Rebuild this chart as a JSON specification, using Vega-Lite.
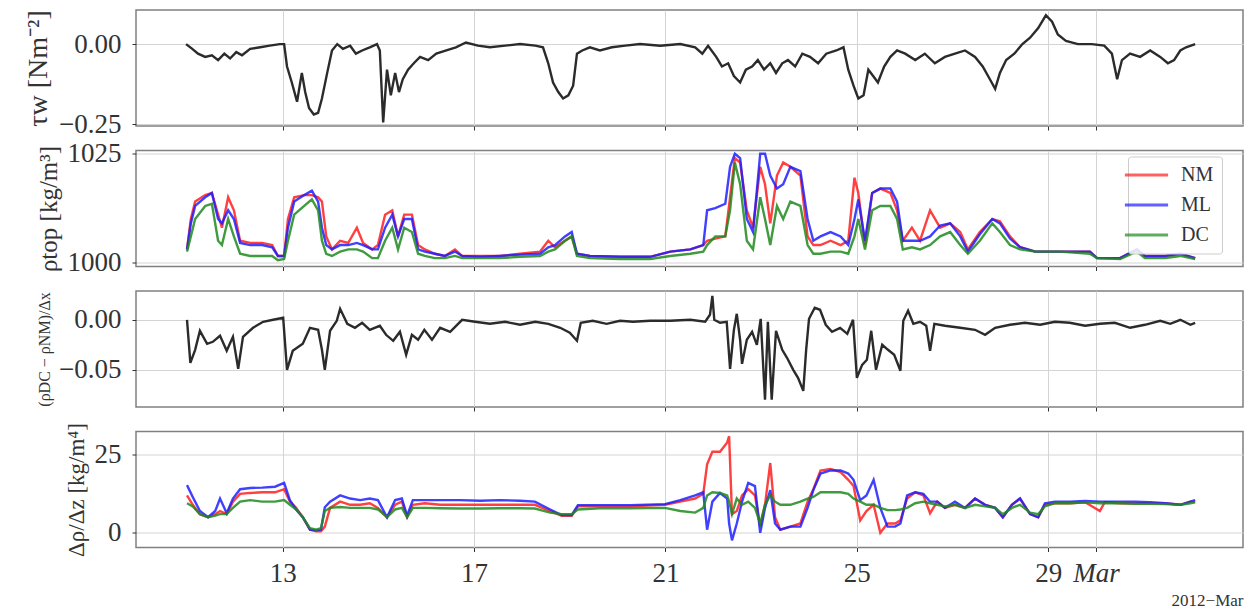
{
  "$schema": "https://vega.github.io/schema/vega-lite/v6.json",
  "padding": {"left": 23, "top": 8, "right": 4, "bottom": 4},
  "background": "white",
  "datasets": {
    "p1": [
      {"t":10.98,"v":0.0},{"t":11.11,"v":-0.015},{"t":11.23,"v":-0.03},{"t":11.38,"v":-0.04},{"t":11.52,"v":-0.035},{"t":11.65,"v":-0.05},{"t":11.78,"v":-0.03},{"t":11.9,"v":-0.045},{"t":12.03,"v":-0.025},{"t":12.15,"v":-0.035},{"t":12.32,"v":-0.015},{"t":12.53,"v":-0.01},{"t":12.73,"v":-0.005},{"t":12.94,"v":0.0},{"t":13.03,"v":0.0},{"t":13.09,"v":-0.07},{"t":13.19,"v":-0.12},{"t":13.3,"v":-0.18},{"t":13.4,"v":-0.09},{"t":13.47,"v":-0.15},{"t":13.55,"v":-0.2},{"t":13.65,"v":-0.22},{"t":13.74,"v":-0.215},{"t":13.82,"v":-0.17},{"t":13.93,"v":-0.09},{"t":14.03,"v":-0.02},{"t":14.14,"v":0.0},{"t":14.26,"v":-0.015},{"t":14.41,"v":-0.005},{"t":14.53,"v":-0.03},{"t":14.66,"v":-0.02},{"t":14.82,"v":-0.01},{"t":14.97,"v":0.0},{"t":15.03,"v":-0.02},{"t":15.1,"v":-0.245},{"t":15.18,"v":-0.08},{"t":15.26,"v":-0.16},{"t":15.35,"v":-0.09},{"t":15.43,"v":-0.15},{"t":15.51,"v":-0.11},{"t":15.62,"v":-0.08},{"t":15.74,"v":-0.06},{"t":15.87,"v":-0.04},{"t":16.04,"v":-0.05},{"t":16.21,"v":-0.03},{"t":16.42,"v":-0.02},{"t":16.62,"v":-0.01},{"t":16.83,"v":0.005},{"t":17.08,"v":-0.005},{"t":17.33,"v":-0.01},{"t":17.65,"v":-0.005},{"t":17.96,"v":0.0},{"t":18.28,"v":-0.005},{"t":18.44,"v":-0.01},{"t":18.55,"v":-0.06},{"t":18.65,"v":-0.12},{"t":18.76,"v":-0.15},{"t":18.86,"v":-0.17},{"t":18.97,"v":-0.16},{"t":19.07,"v":-0.13},{"t":19.15,"v":-0.03},{"t":19.26,"v":-0.02},{"t":19.42,"v":-0.01},{"t":19.63,"v":-0.02},{"t":19.88,"v":-0.01},{"t":20.16,"v":-0.005},{"t":20.47,"v":0.0},{"t":20.89,"v":-0.005},{"t":21.31,"v":0.0},{"t":21.62,"v":-0.01},{"t":21.77,"v":-0.03},{"t":21.89,"v":-0.005},{"t":22.06,"v":-0.04},{"t":22.18,"v":-0.07},{"t":22.31,"v":-0.06},{"t":22.43,"v":-0.1},{"t":22.56,"v":-0.12},{"t":22.68,"v":-0.08},{"t":22.81,"v":-0.07},{"t":22.93,"v":-0.05},{"t":23.06,"v":-0.08},{"t":23.19,"v":-0.06},{"t":23.31,"v":-0.09},{"t":23.44,"v":-0.06},{"t":23.56,"v":-0.05},{"t":23.71,"v":-0.07},{"t":23.86,"v":-0.03},{"t":24.02,"v":-0.04},{"t":24.19,"v":-0.06},{"t":24.36,"v":-0.03},{"t":24.57,"v":-0.02},{"t":24.72,"v":-0.01},{"t":24.82,"v":-0.08},{"t":24.93,"v":-0.13},{"t":25.03,"v":-0.17},{"t":25.14,"v":-0.16},{"t":25.24,"v":-0.08},{"t":25.34,"v":-0.1},{"t":25.44,"v":-0.12},{"t":25.57,"v":-0.07},{"t":25.7,"v":-0.04},{"t":25.84,"v":-0.02},{"t":26.01,"v":-0.03},{"t":26.22,"v":-0.05},{"t":26.42,"v":-0.03},{"t":26.63,"v":-0.06},{"t":26.84,"v":-0.04},{"t":27.05,"v":-0.03},{"t":27.26,"v":-0.02},{"t":27.47,"v":-0.04},{"t":27.63,"v":-0.07},{"t":27.78,"v":-0.11},{"t":27.89,"v":-0.14},{"t":27.99,"v":-0.09},{"t":28.12,"v":-0.05},{"t":28.29,"v":-0.03},{"t":28.46,"v":0.0},{"t":28.62,"v":0.02},{"t":28.79,"v":0.05},{"t":28.95,"v":0.09},{"t":29.08,"v":0.07},{"t":29.2,"v":0.03},{"t":29.37,"v":0.01},{"t":29.62,"v":0.0},{"t":29.91,"v":0.0},{"t":30.17,"v":-0.005},{"t":30.33,"v":-0.03},{"t":30.44,"v":-0.11},{"t":30.54,"v":-0.05},{"t":30.71,"v":-0.03},{"t":30.92,"v":-0.04},{"t":31.13,"v":-0.02},{"t":31.34,"v":-0.04},{"t":31.5,"v":-0.06},{"t":31.63,"v":-0.05},{"t":31.76,"v":-0.02},{"t":31.88,"v":-0.01},{"t":32.07,"v":0.0}
    ],
    "p2": [
      {"t":11.0,"NM":1003,"ML":1003,"DC":1002.5},{"t":11.08,"NM":1010,"ML":1009,"DC":1006},{"t":11.17,"NM":1014,"ML":1013,"DC":1010},{"t":11.38,"NM":1015.5,"ML":1015,"DC":1013},{"t":11.52,"NM":1016,"ML":1016,"DC":1013.5},{"t":11.65,"NM":1011,"ML":1010,"DC":1005},{"t":11.73,"NM":1008,"ML":1009,"DC":1004},{"t":11.86,"NM":1015,"ML":1012,"DC":1010},{"t":11.98,"NM":1012,"ML":1010,"DC":1006},{"t":12.11,"NM":1005,"ML":1004.5,"DC":1002},{"t":12.32,"NM":1004.5,"ML":1004,"DC":1001.5},{"t":12.57,"NM":1004.5,"ML":1004,"DC":1001.5},{"t":12.78,"NM":1004,"ML":1003.5,"DC":1001.5},{"t":12.9,"NM":1001.5,"ML":1001.5,"DC":1000.5},{"t":13.03,"NM":1001.5,"ML":1001.5,"DC":1000.8},{"t":13.11,"NM":1010,"ML":1008,"DC":1005},{"t":13.24,"NM":1015,"ML":1014,"DC":1011},{"t":13.45,"NM":1015.5,"ML":1015.5,"DC":1013},{"t":13.61,"NM":1015.5,"ML":1016.5,"DC":1014.5},{"t":13.74,"NM":1015,"ML":1014,"DC":1012},{"t":13.82,"NM":1014,"ML":1008,"DC":1005},{"t":13.91,"NM":1006,"ML":1004,"DC":1002},{"t":14.03,"NM":1003,"ML":1003,"DC":1001.5},{"t":14.2,"NM":1005,"ML":1004,"DC":1002.5},{"t":14.37,"NM":1004.5,"ML":1004,"DC":1003},{"t":14.55,"NM":1008,"ML":1004.5,"DC":1003},{"t":14.68,"NM":1004.5,"ML":1004,"DC":1002.5},{"t":14.87,"NM":1003,"ML":1003,"DC":1001},{"t":14.99,"NM":1004,"ML":1003,"DC":1001},{"t":15.14,"NM":1011,"ML":1008,"DC":1005},{"t":15.29,"NM":1012,"ML":1011,"DC":1008},{"t":15.41,"NM":1006,"ML":1006,"DC":1003},{"t":15.54,"NM":1011,"ML":1010,"DC":1008},{"t":15.7,"NM":1011,"ML":1010,"DC":1007},{"t":15.83,"NM":1004,"ML":1003,"DC":1002},{"t":15.97,"NM":1003,"ML":1002.5,"DC":1001.5},{"t":16.18,"NM":1002,"ML":1002,"DC":1001},{"t":16.39,"NM":1001.5,"ML":1001.5,"DC":1001},{"t":16.6,"NM":1003,"ML":1002.5,"DC":1001.5},{"t":16.75,"NM":1001.5,"ML":1001.5,"DC":1001},{"t":17.12,"NM":1001.5,"ML":1001.3,"DC":1001},{"t":17.54,"NM":1001.5,"ML":1001.5,"DC":1001},{"t":17.96,"NM":1002,"ML":1001.8,"DC":1001.3},{"t":18.38,"NM":1002.5,"ML":1002,"DC":1001.5},{"t":18.55,"NM":1005,"ML":1003.5,"DC":1002.5},{"t":18.69,"NM":1003.5,"ML":1004,"DC":1003},{"t":18.9,"NM":1005,"ML":1006,"DC":1005},{"t":19.04,"NM":1006,"ML":1007,"DC":1006},{"t":19.15,"NM":1002,"ML":1002,"DC":1001.5},{"t":19.42,"NM":1001.5,"ML":1001.5,"DC":1001},{"t":20.05,"NM":1001.3,"ML":1001.3,"DC":1000.8},{"t":20.68,"NM":1001.3,"ML":1001.3,"DC":1000.8},{"t":21.1,"NM":1002.5,"ML":1002.5,"DC":1001.5},{"t":21.52,"NM":1003,"ML":1003,"DC":1002},{"t":21.79,"NM":1004,"ML":1004,"DC":1002.5},{"t":21.87,"NM":1005,"ML":1012,"DC":1004},{"t":22.04,"NM":1005.5,"ML":1012.5,"DC":1006},{"t":22.25,"NM":1006,"ML":1013.5,"DC":1006},{"t":22.35,"NM":1015,"ML":1022,"DC":1012},{"t":22.45,"NM":1024,"ML":1025,"DC":1023},{"t":22.56,"NM":1023,"ML":1024,"DC":1018},{"t":22.7,"NM":1012,"ML":1010,"DC":1005},{"t":22.83,"NM":1008,"ML":1007,"DC":1003},{"t":22.98,"NM":1022,"ML":1025,"DC":1015},{"t":23.08,"NM":1018,"ML":1025,"DC":1010},{"t":23.19,"NM":1009,"ML":1020,"DC":1004},{"t":23.33,"NM":1020,"ML":1017,"DC":1013},{"t":23.46,"NM":1023,"ML":1018,"DC":1010},{"t":23.61,"NM":1022,"ML":1022,"DC":1014},{"t":23.82,"NM":1020,"ML":1021,"DC":1013},{"t":23.97,"NM":1006,"ML":1010,"DC":1004},{"t":24.09,"NM":1004,"ML":1005,"DC":1002},{"t":24.24,"NM":1004,"ML":1006,"DC":1002},{"t":24.45,"NM":1005,"ML":1007,"DC":1002.5},{"t":24.66,"NM":1004,"ML":1006,"DC":1002.5},{"t":24.82,"NM":1005,"ML":1004,"DC":1002},{"t":24.95,"NM":1019.5,"ML":1010,"DC":1006},{"t":25.03,"NM":1016,"ML":1014.5,"DC":1010},{"t":25.17,"NM":1004,"ML":1005,"DC":1003},{"t":25.32,"NM":1016,"ML":1016,"DC":1012},{"t":25.49,"NM":1017,"ML":1017,"DC":1013},{"t":25.7,"NM":1016,"ML":1017,"DC":1013},{"t":25.84,"NM":1012,"ML":1014,"DC":1010},{"t":25.96,"NM":1005,"ML":1005,"DC":1003},{"t":26.15,"NM":1008,"ML":1005,"DC":1003.5},{"t":26.32,"NM":1005,"ML":1005,"DC":1003},{"t":26.53,"NM":1012,"ML":1006,"DC":1004},{"t":26.74,"NM":1008,"ML":1008.5,"DC":1006},{"t":26.95,"NM":1009,"ML":1009,"DC":1007},{"t":27.16,"NM":1007,"ML":1006,"DC":1004},{"t":27.32,"NM":1003,"ML":1002.5,"DC":1002},{"t":27.57,"NM":1007,"ML":1006.5,"DC":1005},{"t":27.83,"NM":1010,"ML":1010,"DC":1009},{"t":27.99,"NM":1009.5,"ML":1009,"DC":1007},{"t":28.2,"NM":1006,"ML":1005.5,"DC":1004},{"t":28.41,"NM":1003.5,"ML":1003.5,"DC":1003},{"t":28.73,"NM":1002.5,"ML":1002.5,"DC":1002.5},{"t":29.25,"NM":1002.5,"ML":1002.5,"DC":1002.5},{"t":29.87,"NM":1002.5,"ML":1002.5,"DC":1002},{"t":30.02,"NM":1001,"ML":1001,"DC":1001},{"t":30.5,"NM":1001,"ML":1001,"DC":1000.8},{"t":30.85,"NM":1003,"ML":1003,"DC":1002.5},{"t":31.02,"NM":1001.5,"ML":1001.5,"DC":1001},{"t":31.44,"NM":1001.5,"ML":1001.5,"DC":1001},{"t":31.76,"NM":1002,"ML":1002,"DC":1001.5},{"t":32.07,"NM":1001,"ML":1001,"DC":1000.8}
    ],
    "p3": [
      {"t":11.0,"v":0.0},{"t":11.07,"v":-0.043},{"t":11.17,"v":-0.03},{"t":11.27,"v":-0.011},{"t":11.42,"v":-0.024},{"t":11.54,"v":-0.022},{"t":11.69,"v":-0.016},{"t":11.83,"v":-0.031},{"t":11.96,"v":-0.017},{"t":12.07,"v":-0.049},{"t":12.17,"v":-0.017},{"t":12.38,"v":-0.008},{"t":12.59,"v":-0.002},{"t":12.8,"v":0.0},{"t":13.01,"v":0.002},{"t":13.09,"v":-0.05},{"t":13.21,"v":-0.031},{"t":13.42,"v":-0.024},{"t":13.57,"v":-0.008},{"t":13.74,"v":-0.01},{"t":13.82,"v":-0.03},{"t":13.88,"v":-0.05},{"t":13.99,"v":-0.011},{"t":14.13,"v":-0.001},{"t":14.2,"v":0.011},{"t":14.35,"v":-0.004},{"t":14.51,"v":-0.008},{"t":14.66,"v":-0.003},{"t":14.82,"v":-0.01},{"t":15.03,"v":-0.006},{"t":15.16,"v":-0.015},{"t":15.31,"v":-0.021},{"t":15.45,"v":-0.012},{"t":15.58,"v":-0.035},{"t":15.7,"v":-0.015},{"t":15.83,"v":-0.02},{"t":15.96,"v":-0.01},{"t":16.12,"v":-0.02},{"t":16.29,"v":-0.008},{"t":16.5,"v":-0.012},{"t":16.75,"v":0.0},{"t":17.02,"v":-0.002},{"t":17.33,"v":-0.004},{"t":17.65,"v":-0.002},{"t":17.96,"v":-0.005},{"t":18.28,"v":-0.002},{"t":18.55,"v":-0.004},{"t":18.8,"v":-0.008},{"t":19.0,"v":-0.013},{"t":19.15,"v":-0.021},{"t":19.23,"v":-0.003},{"t":19.48,"v":-0.001},{"t":19.77,"v":-0.004},{"t":20.05,"v":-0.001},{"t":20.32,"v":-0.002},{"t":20.68,"v":-0.001},{"t":21.1,"v":-0.001},{"t":21.52,"v":0.0},{"t":21.83,"v":-0.002},{"t":21.93,"v":0.005},{"t":21.98,"v":0.024},{"t":22.02,"v":0.0},{"t":22.14,"v":-0.003},{"t":22.28,"v":-0.002},{"t":22.35,"v":-0.049},{"t":22.43,"v":-0.01},{"t":22.49,"v":0.006},{"t":22.56,"v":-0.02},{"t":22.6,"v":-0.044},{"t":22.7,"v":-0.02},{"t":22.81,"v":-0.012},{"t":22.91,"v":-0.025},{"t":22.99,"v":0.001},{"t":23.08,"v":-0.08},{"t":23.14,"v":-0.002},{"t":23.22,"v":-0.08},{"t":23.31,"v":-0.011},{"t":23.44,"v":-0.03},{"t":23.54,"v":-0.038},{"t":23.67,"v":-0.05},{"t":23.77,"v":-0.058},{"t":23.88,"v":-0.071},{"t":23.94,"v":-0.03},{"t":24.0,"v":0.001},{"t":24.12,"v":0.012},{"t":24.23,"v":0.01},{"t":24.35,"v":-0.005},{"t":24.48,"v":-0.012},{"t":24.65,"v":-0.008},{"t":24.8,"v":-0.014},{"t":24.92,"v":0.0},{"t":25.0,"v":-0.058},{"t":25.11,"v":-0.045},{"t":25.21,"v":-0.04},{"t":25.3,"v":-0.011},{"t":25.4,"v":-0.05},{"t":25.53,"v":-0.025},{"t":25.65,"v":-0.03},{"t":25.78,"v":-0.035},{"t":25.91,"v":-0.051},{"t":25.97,"v":-0.001},{"t":26.07,"v":0.009},{"t":26.18,"v":-0.004},{"t":26.32,"v":-0.002},{"t":26.45,"v":-0.006},{"t":26.53,"v":-0.031},{"t":26.62,"v":-0.004},{"t":26.84,"v":-0.006},{"t":27.16,"v":-0.008},{"t":27.47,"v":-0.01},{"t":27.68,"v":-0.015},{"t":27.89,"v":-0.008},{"t":28.2,"v":-0.005},{"t":28.51,"v":-0.003},{"t":28.83,"v":-0.005},{"t":29.14,"v":-0.002},{"t":29.45,"v":-0.003},{"t":29.77,"v":-0.006},{"t":30.08,"v":-0.004},{"t":30.39,"v":-0.003},{"t":30.71,"v":-0.008},{"t":31.02,"v":-0.005},{"t":31.34,"v":-0.001},{"t":31.55,"v":-0.004},{"t":31.76,"v":0.0},{"t":31.97,"v":-0.005},{"t":32.07,"v":-0.003}
    ],
    "p4": [
      {"t":11.0,"NM":12,"ML":15.3,"DC":9.5},{"t":11.12,"NM":9,"ML":11.5,"DC":8.5},{"t":11.27,"NM":6,"ML":7,"DC":6},{"t":11.44,"NM":5,"ML":5,"DC":5},{"t":11.59,"NM":6,"ML":7,"DC":5.5},{"t":11.69,"NM":7,"ML":11,"DC":6},{"t":11.83,"NM":6,"ML":6.3,"DC":6},{"t":11.96,"NM":10,"ML":11,"DC":8},{"t":12.11,"NM":12.5,"ML":14,"DC":10},{"t":12.32,"NM":12.8,"ML":14.4,"DC":10.5},{"t":12.57,"NM":13,"ML":14.5,"DC":10},{"t":12.84,"NM":13,"ML":14.8,"DC":10},{"t":13.03,"NM":14,"ML":16,"DC":10.5},{"t":13.15,"NM":10,"ML":10.5,"DC":9},{"t":13.28,"NM":8,"ML":7.5,"DC":7.5},{"t":13.42,"NM":5,"ML":5,"DC":5},{"t":13.57,"NM":1,"ML":1,"DC":1.5},{"t":13.7,"NM":0.5,"ML":0.8,"DC":1},{"t":13.8,"NM":0.5,"ML":1,"DC":1.5},{"t":13.88,"NM":2,"ML":8.2,"DC":7},{"t":13.99,"NM":8,"ML":10,"DC":8},{"t":14.2,"NM":10,"ML":12,"DC":8.3},{"t":14.41,"NM":9,"ML":11,"DC":8},{"t":14.62,"NM":9,"ML":10.5,"DC":8},{"t":14.82,"NM":9.5,"ML":11,"DC":8},{"t":14.99,"NM":8,"ML":10.5,"DC":7.5},{"t":15.18,"NM":5,"ML":5,"DC":5},{"t":15.35,"NM":9,"ML":10.5,"DC":7.5},{"t":15.49,"NM":10,"ML":11,"DC":8},{"t":15.6,"NM":5,"ML":5.5,"DC":5},{"t":15.72,"NM":9,"ML":10.5,"DC":8},{"t":15.97,"NM":9.5,"ML":10.5,"DC":8},{"t":16.29,"NM":9,"ML":10.5,"DC":7.9},{"t":16.71,"NM":9,"ML":10.5,"DC":7.8},{"t":17.13,"NM":9,"ML":10.3,"DC":7.8},{"t":17.54,"NM":9,"ML":10.5,"DC":7.9},{"t":17.96,"NM":9,"ML":10.3,"DC":7.9},{"t":18.27,"NM":9,"ML":10,"DC":7.8},{"t":18.59,"NM":7,"ML":7.5,"DC":6.5},{"t":18.83,"NM":5.5,"ML":5.7,"DC":6},{"t":19.04,"NM":5.5,"ML":5.7,"DC":6},{"t":19.17,"NM":8.5,"ML":8.9,"DC":7.5},{"t":19.63,"NM":8.5,"ML":8.9,"DC":7.9},{"t":20.26,"NM":8.5,"ML":8.9,"DC":7.9},{"t":20.99,"NM":9,"ML":9.2,"DC":8},{"t":21.31,"NM":10,"ML":10.5,"DC":7},{"t":21.62,"NM":11,"ML":12,"DC":6.5},{"t":21.79,"NM":12.5,"ML":13,"DC":8},{"t":21.87,"NM":22,"ML":1,"DC":12},{"t":21.98,"NM":26,"ML":10,"DC":13},{"t":22.14,"NM":26,"ML":12.8,"DC":12.8},{"t":22.29,"NM":29,"ML":11,"DC":12},{"t":22.33,"NM":31,"ML":3,"DC":10},{"t":22.39,"NM":6,"ML":-2.4,"DC":6},{"t":22.49,"NM":7,"ML":3,"DC":11},{"t":22.6,"NM":12,"ML":10,"DC":9},{"t":22.73,"NM":14,"ML":16,"DC":10},{"t":22.87,"NM":12,"ML":15,"DC":8},{"t":22.98,"NM":2,"ML":0,"DC":3},{"t":23.08,"NM":9,"ML":8,"DC":9},{"t":23.19,"NM":22.4,"ML":13.7,"DC":12},{"t":23.29,"NM":5,"ML":3,"DC":10},{"t":23.4,"NM":1,"ML":1,"DC":9},{"t":23.61,"NM":2,"ML":2,"DC":9},{"t":23.82,"NM":3,"ML":2,"DC":10},{"t":23.97,"NM":10,"ML":8,"DC":11},{"t":24.09,"NM":14,"ML":13.7,"DC":11.5},{"t":24.24,"NM":20,"ML":19,"DC":13},{"t":24.45,"NM":20.5,"ML":20,"DC":13},{"t":24.66,"NM":19.5,"ML":20,"DC":13},{"t":24.82,"NM":17,"ML":19,"DC":12.5},{"t":24.93,"NM":15,"ML":17,"DC":11},{"t":25.07,"NM":4,"ML":10.5,"DC":10},{"t":25.2,"NM":7,"ML":12,"DC":9},{"t":25.35,"NM":9,"ML":17,"DC":9},{"t":25.49,"NM":0,"ML":8,"DC":8},{"t":25.64,"NM":3,"ML":2,"DC":7.3},{"t":25.8,"NM":3,"ML":2,"DC":7.3},{"t":25.91,"NM":4,"ML":3,"DC":7.5},{"t":26.05,"NM":11,"ML":12,"DC":8},{"t":26.22,"NM":13,"ML":13,"DC":9.5},{"t":26.39,"NM":12,"ML":12.5,"DC":10},{"t":26.53,"NM":6.3,"ML":10,"DC":9.5},{"t":26.68,"NM":10,"ML":10,"DC":9},{"t":26.84,"NM":8,"ML":8,"DC":8.5},{"t":27.05,"NM":9,"ML":10,"DC":9},{"t":27.26,"NM":8,"ML":8,"DC":8},{"t":27.47,"NM":11,"ML":11,"DC":9},{"t":27.68,"NM":9,"ML":9,"DC":8.5},{"t":27.89,"NM":8,"ML":8,"DC":8},{"t":28.05,"NM":5,"ML":5,"DC":6},{"t":28.24,"NM":9,"ML":9,"DC":8},{"t":28.41,"NM":11,"ML":11,"DC":9},{"t":28.62,"NM":6,"ML":6,"DC":6.5},{"t":28.79,"NM":5,"ML":5,"DC":6},{"t":28.93,"NM":9,"ML":9.5,"DC":8.5},{"t":29.14,"NM":9.5,"ML":10,"DC":9.5},{"t":29.46,"NM":9.5,"ML":10,"DC":9.5},{"t":29.77,"NM":9.8,"ML":10.2,"DC":9.8},{"t":30.08,"NM":7,"ML":10,"DC":9.5},{"t":30.18,"NM":9.8,"ML":10,"DC":9.5},{"t":30.5,"NM":9.5,"ML":10,"DC":9.5},{"t":30.81,"NM":9.5,"ML":10,"DC":9.3},{"t":31.13,"NM":9.5,"ML":9.8,"DC":9.3},{"t":31.44,"NM":9.5,"ML":9.5,"DC":9.2},{"t":31.76,"NM":9,"ML":9,"DC":9},{"t":31.97,"NM":10,"ML":10,"DC":9.5},{"t":32.07,"NM":10,"ML":10.5,"DC":9.8}
    ]
  },
  "vconcat": [
    {
      "width": 1107, "height": 116,
      "data": {"name": "p1"},
      "mark": {"type": "line", "color": "#2b2b2b", "strokeWidth": 2.4},
      "encoding": {
        "x": {"field": "t", "type": "quantitative", "scale": {"domain": [9.934, 33.07], "nice": false, "zero": false},
              "axis": {"values": [13, 17, 21, 25, 29, 30], "labels": false, "title": null, "grid": true}},
        "y": {"field": "v", "type": "quantitative", "scale": {"domain": [-0.256, 0.1065], "nice": false, "zero": false},
              "axis": {"values": [-0.25, 0], "format": ".2f", "title": "τw [Nm⁻²]", "grid": true}}
      }
    },
    {
      "width": 1107, "height": 116,
      "data": {"name": "p2"},
      "transform": [{"fold": ["NM", "ML", "DC"], "as": ["run", "value"]}],
      "mark": {"type": "line", "strokeWidth": 2.4, "strokeOpacity": 0.85},
      "encoding": {
        "x": {"field": "t", "type": "quantitative", "scale": {"domain": [9.934, 33.07], "nice": false, "zero": false},
              "axis": {"values": [13, 17, 21, 25, 29, 30], "labels": false, "title": null, "grid": true}},
        "y": {"field": "value", "type": "quantitative", "scale": {"domain": [999.07, 1025.76], "nice": false, "zero": false},
              "axis": {"values": [1000, 1025], "format": "d", "title": "ρtop [kg/m³]", "titleFontSize": 25, "grid": true}},
        "color": {"field": "run", "type": "nominal",
                  "scale": {"domain": ["NM", "ML", "DC"], "range": ["#ff1f1f", "#1f1fff", "#1f8a1f"]},
                  "legend": {"orient": "none", "legendX": 992, "legendY": 6, "title": null, "symbolType": "M-2.4,0H2.4",
                             "symbolSize": 324, "symbolStrokeWidth": 3, "symbolOpacity": 0.7, "labelFontSize": 20,
                             "labelFont": "Liberation Serif", "labelColor": "#333", "fillColor": "rgba(255,255,255,0.85)",
                             "strokeColor": "#cccccc", "padding": 8, "cornerRadius": 3, "rowPadding": 9, "labelOffset": 24}}
      }
    },
    {
      "width": 1107, "height": 116,
      "data": {"name": "p3"},
      "mark": {"type": "line", "color": "#2b2b2b", "strokeWidth": 2.4},
      "encoding": {
        "x": {"field": "t", "type": "quantitative", "scale": {"domain": [9.934, 33.07], "nice": false, "zero": false},
              "axis": {"values": [13, 17, 21, 25, 29, 30], "labels": false, "title": null, "grid": true}},
        "y": {"field": "v", "type": "quantitative", "scale": {"domain": [-0.0872, 0.0288], "nice": false, "zero": false},
              "axis": {"values": [-0.05, 0], "format": ".2f", "title": "(ρDC − ρNM)/Δx", "titleFontSize": 16, "grid": true}}
      }
    },
    {
      "width": 1107, "height": 116,
      "data": {"name": "p4"},
      "transform": [{"fold": ["NM", "ML", "DC"], "as": ["run", "value"]}],
      "mark": {"type": "line", "strokeWidth": 2.4, "strokeOpacity": 0.85},
      "encoding": {
        "x": {"field": "t", "type": "quantitative", "scale": {"domain": [9.934, 33.07], "nice": false, "zero": false},
              "axis": {"values": [13, 17, 21, 25, 29, 30], "labels": true, "grid": true,
                       "labelExpr": "datum.value == 30 ? 'Mar' : format(datum.value, 'd')",
                       "labelFontStyle": {"condition": {"test": "datum.value == 30", "value": "italic"}, "value": "normal"},
                       "labelPadding": 9,
                       "title": "2012−Mar", "titleAnchor": "end", "titleFontSize": 17, "titlePadding": 6}},
        "y": {"field": "value", "type": "quantitative", "scale": {"domain": [-4.7, 32.5], "nice": false, "zero": false},
              "axis": {"values": [0, 25], "format": "d", "title": "Δρ/Δz [kg/m⁴]", "titleFontSize": 23, "grid": true}},
        "color": {"field": "run", "type": "nominal",
                  "scale": {"domain": ["NM", "ML", "DC"], "range": ["#ff1f1f", "#1f1fff", "#1f8a1f"]},
                  "legend": null}
      }
    }
  ],
  "spacing": 24.5,
  "bounds": "flush",
  "resolve": {"scale": {"color": "independent", "x": "independent", "y": "independent"}, "legend": {"color": "independent"}},
  "config": {
    "font": "Liberation Serif",
    "view": {"stroke": "#808080", "strokeWidth": 1.5},
    "axis": {
      "labelFont": "Liberation Serif", "titleFont": "Liberation Serif",
      "labelColor": "#333333", "titleColor": "#333333",
      "labelFontSize": 27, "titleFontSize": 28, "titleFontWeight": "normal",
      "gridColor": "#d4d4d4", "gridWidth": 1,
      "tickColor": "#333333", "tickSize": 4, "domain": false,
      "labelPadding": 11, "titlePadding": 6
    }
  }
}
